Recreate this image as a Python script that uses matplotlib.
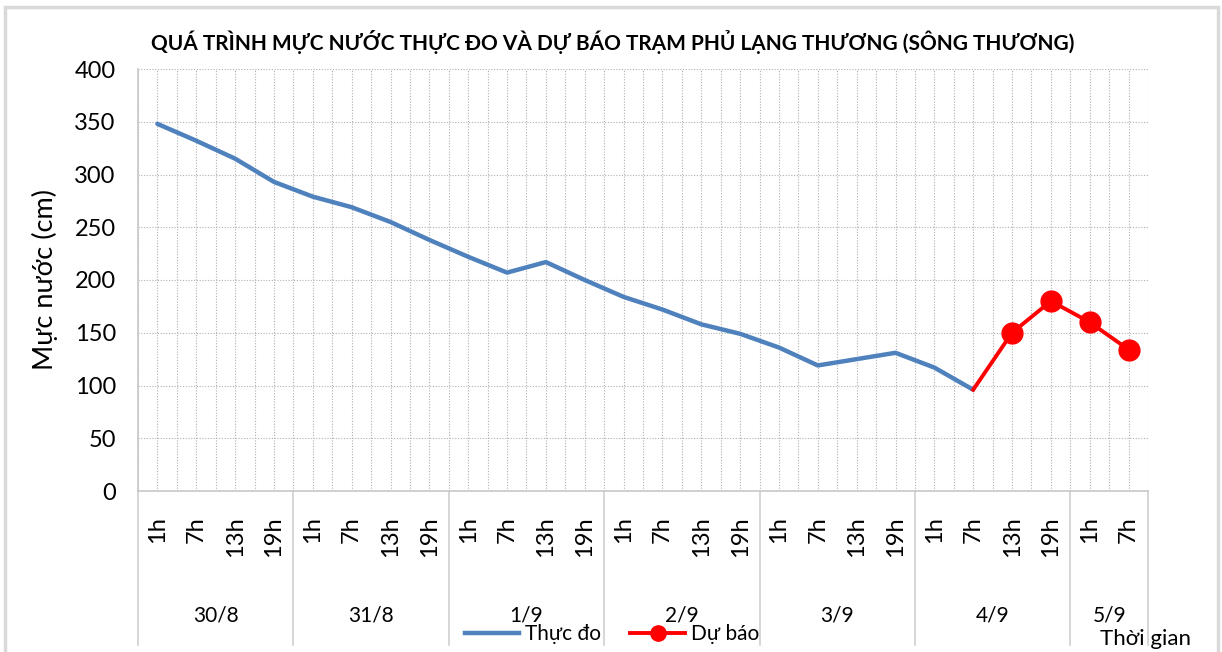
import matplotlib.pyplot as plt
from matplotlib.patches import Rectangle

plt.rcParams['font.family'] = ['Lato', 'DejaVu Sans']

# DATA
days = ['30/8', '31/8', '1/9', '2/9', '3/9', '4/9', '5/9']
hours_per_day = [4, 4, 4, 4, 4, 4, 2]
hour_labels = ['1h', '7h', '13h', '19h'] * 6 + ['1h', '7h']

# measured (Thực đo), 30/8 1h .. 4/9 7h
observed = [348, 332, 315, 293, 279, 269, 255, 238,
            222, 207, 217, 200, 184, 172, 158, 149,
            136, 119, 125, 131, 117, 96]
# forecast (Dự báo), 4/9 7h .. 5/9 7h
forecast = [96, 150, 180, 160, 134]

n = len(hour_labels)
x_obs = list(range(len(observed)))
x_fc = list(range(len(observed) - 1, n))

# DATA VISUALIZATION
fig = plt.figure(figsize=(12.22, 6.52), dpi=100)
ax = fig.add_axes([138 / 1222, 1 - 491 / 652, (1148 - 138) / 1222, (491 - 69) / 652])

ax.plot(x_obs, observed, color='#4F81BD', lw=3.2, solid_capstyle='round', label='Thực đo', zorder=3)
ax.plot(x_fc, forecast, color='#FF0000', lw=2.8, label='Dự báo', zorder=4)
ax.plot(x_fc[1:], forecast[1:], ls='', marker='o', ms=15, color='#FF0000', zorder=5)

ax.set_xlim(-0.5, n - 0.5)
ax.set_ylim(0, 400)
ax.set_yticks(range(0, 401, 50))
ax.set_xticks(range(n))
ax.set_xticklabels(hour_labels, rotation=90, va='top', ha='center', fontsize=17)
ax.set_xticks([i - 0.5 for i in range(n + 1)], minor=True)
ax.tick_params(axis='x', which='both', length=0, pad=18)
ax.tick_params(axis='y', length=0, labelsize=17, pad=16)

ax.grid(True, which='both', axis='x', color='#b0b0b0', ls=(0, (1, 1.5)), lw=0.8)
ax.grid(True, which='major', axis='y', color='#b0b0b0', ls=(0, (1, 1.5)), lw=0.8)
ax.set_axisbelow(True)

for side in ['top', 'right']:
    ax.spines[side].set_visible(False)
for side in ['left', 'bottom']:
    ax.spines[side].set_color('#c8c8c8')
    ax.spines[side].set_linewidth(1.2)

ax.set_ylabel('Mực nước (cm)', fontsize=19.5, labelpad=12)

# day groups under the hour labels
trans = ax.get_xaxis_transform()
start = -0.5
for day, cnt in zip(days, hours_per_day):
    ax.plot([start, start], [0, -0.365], color='#d0d0d0', lw=1.2, transform=trans, clip_on=False)
    ax.text(start + cnt / 2, -0.295, day, ha='center', va='center', fontsize=15, transform=trans)
    start += cnt
ax.plot([start, start], [0, -0.365], color='#d0d0d0', lw=1.2, transform=trans, clip_on=False)

fig.text(613 / 1222, 1 - 42 / 652, 'QUÁ TRÌNH MỰC NƯỚC THỰC ĐO VÀ DỰ BÁO TRẠM PHỦ LẠNG THƯƠNG (SÔNG THƯƠNG)',
         ha='center', va='center', fontsize=15, weight='bold')

h_obs, = ax.plot([], [], color='#4F81BD', lw=3.2)
h_fc, = ax.plot([], [], color='#FF0000', lw=2.8, marker='o', ms=11)
fig.legend([h_obs, h_fc], ['Thực đo', 'Dự báo'], loc='center', bbox_to_anchor=(612 / 1222, 1 - 634 / 652),
           ncol=2, frameon=False, fontsize=15, handlelength=2.6, handletextpad=0.3, columnspacing=1.4)
fig.text(1146 / 1222, 1 - 639 / 652, 'Thời gian', ha='center', va='center', fontsize=16)

fig.patches.append(Rectangle((5 / 1222, -0.02), 1213 / 1222, 1.02 - 7 / 652, transform=fig.transFigure,
                             fill=False, edgecolor='#d9d9d9', lw=2.5))

plt.savefig('out.png', dpi=100)
